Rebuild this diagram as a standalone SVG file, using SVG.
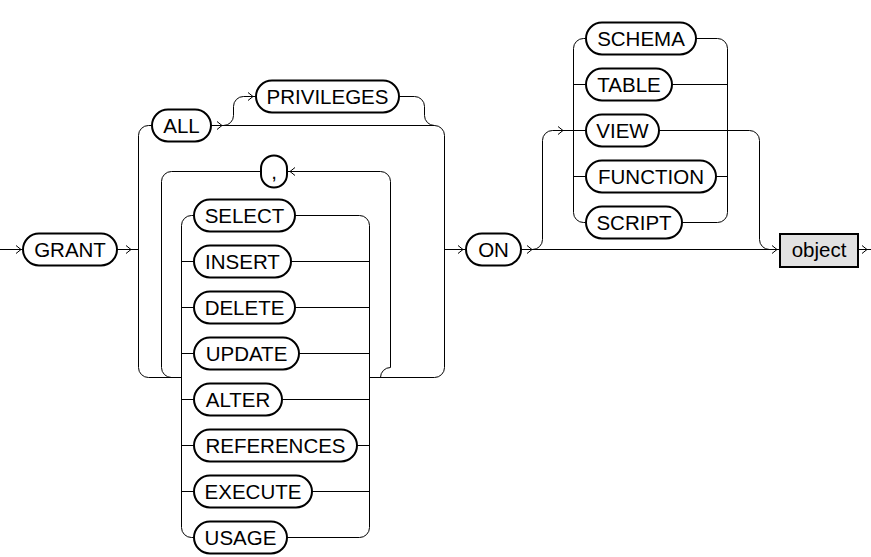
<svg xmlns="http://www.w3.org/2000/svg" xmlns:xlink="http://www.w3.org/1999/xlink" width="871" height="557" viewBox="0 0 871 557">
<style>
.pill{fill:#fff;stroke:#000;stroke-width:2}
.box{fill:#e2e2e2;stroke:#000;stroke-width:2}
.t{font-family:"Liberation Sans",Arial,sans-serif;font-size:20.5px;text-anchor:middle;fill:#000}
.c path,.c use{fill:none;stroke:#000;stroke-width:1}
</style>
<defs>
<path id="ar" d="M-5,-4 L0,0 L-5,4"/>
</defs>
<rect width="871" height="557" fill="#fff"/>
<g id="connectors" class="c">
<path d="M0,249.5 H22"/>
<path d="M118,249.5 H138.5"/>
<path d="M138.5,135.5 A10,10 0 0 1 148.5,125.5 H151"/>
<path d="M138.5,135.5 V367.5 A10,10 0 0 0 148.5,377.5 H181.5"/>
<path d="M212,125.5 H434.5 A10,10 0 0 1 444.5,135.5 V367.5 A10,10 0 0 1 434.5,377.5 H369.5"/>
<path d="M223.5,125.5 A10,10 0 0 0 233.5,115.5 V106.5 A10,10 0 0 1 243.5,96.5 H255"/>
<path d="M400,96.5 H414.5 A10,10 0 0 1 424.5,106.5 V115.5 A10,10 0 0 0 434.5,125.5"/>
<path d="M260,171.5 H171.5 A10,10 0 0 0 161.5,181.5 V367.5 A10,10 0 0 0 171.5,377.5"/>
<path d="M288,171.5 H380.5 A10,10 0 0 1 390.5,181.5 V367.5 A10,10 0 0 0 380.5,377.5"/>
<path d="M193,215.5 H191.5 A10,10 0 0 0 181.5,225.5 V527.5 A10,10 0 0 0 191.5,537.5 H193"/>
<path d="M181.5,261.5 H193 M181.5,307.5 H193 M181.5,353.5 H193 M181.5,399.5 H193 M181.5,445.5 H193 M181.5,491.5 H193"/>
<path d="M296,215.5 H359.5 A10,10 0 0 1 369.5,225.5 V527.5 A10,10 0 0 1 359.5,537.5 H288"/>
<path d="M292,261.5 H369.5 M296,307.5 H369.5 M300,353.5 H369.5 M283,399.5 H369.5 M358,445.5 H369.5 M313,491.5 H369.5"/>
<path d="M444.5,249.5 H465"/>
<path d="M522,249.5 H779"/>
<path d="M532.5,249.5 A10,10 0 0 0 542.5,239.5 V140.5 A10,10 0 0 1 552.5,130.5 H585"/>
<path d="M585,38.5 H583.5 A10,10 0 0 0 573.5,48.5 V212.5 A10,10 0 0 0 583.5,222.5 H585"/>
<path d="M573.5,84.5 H585 M573.5,176.5 H585"/>
<path d="M697,38.5 H717.5 A10,10 0 0 1 727.5,48.5 V212.5 A10,10 0 0 1 717.5,222.5 H683"/>
<path d="M673,84.5 H727.5 M717,176.5 H727.5"/>
<path d="M660,130.5 H749.5 A10,10 0 0 1 759.5,140.5 V239.5 A10,10 0 0 0 769.5,249.5 H779"/>
<path d="M859,249.5 H871"/>
<use xlink:href="#ar" transform="translate(21,249.5)"/>
<use xlink:href="#ar" transform="translate(131,249.5)"/>
<use xlink:href="#ar" transform="translate(222,125.5)"/>
<use xlink:href="#ar" transform="translate(253,96.5)"/>
<use xlink:href="#ar" transform="translate(290,171.5) rotate(180)"/>
<use xlink:href="#ar" transform="translate(463,249.5)"/>
<use xlink:href="#ar" transform="translate(532,249.5)"/>
<use xlink:href="#ar" transform="translate(563,130.5)"/>
<use xlink:href="#ar" transform="translate(777,249.5)"/>
<use xlink:href="#ar" transform="translate(867,249.5)"/>
</g>
<g id="n-grant"><rect class="pill" x="23" y="233.5" width="94" height="32" rx="16"/><text class="t" x="70" y="257">GRANT</text></g>
<g id="n-all"><rect class="pill" x="152" y="109.5" width="59" height="32" rx="16"/><text class="t" x="181.5" y="133">ALL</text></g>
<g id="n-privileges"><rect class="pill" x="256" y="80.5" width="143" height="32" rx="16"/><text class="t" x="327.5" y="104">PRIVILEGES</text></g>
<g id="n-comma"><rect class="pill" x="261" y="155.5" width="26" height="32" rx="13"/><text class="t" x="274" y="179">,</text></g>
<g id="n-select"><rect class="pill" x="194" y="199.5" width="101" height="32" rx="16"/><text class="t" x="244.5" y="223">SELECT</text></g>
<g id="n-insert"><rect class="pill" x="194" y="245.5" width="97" height="32" rx="16"/><text class="t" x="242.5" y="269">INSERT</text></g>
<g id="n-delete"><rect class="pill" x="194" y="291.5" width="101" height="32" rx="16"/><text class="t" x="244.5" y="315">DELETE</text></g>
<g id="n-update"><rect class="pill" x="194" y="337.5" width="105" height="32" rx="16"/><text class="t" x="246.5" y="361">UPDATE</text></g>
<g id="n-alter"><rect class="pill" x="194" y="383.5" width="88" height="32" rx="16"/><text class="t" x="238" y="407">ALTER</text></g>
<g id="n-references"><rect class="pill" x="194" y="429.5" width="163" height="32" rx="16"/><text class="t" x="275.5" y="453">REFERENCES</text></g>
<g id="n-execute"><rect class="pill" x="194" y="475.5" width="118" height="32" rx="16"/><text class="t" x="253" y="499">EXECUTE</text></g>
<g id="n-usage"><rect class="pill" x="194" y="521.5" width="93" height="32" rx="16"/><text class="t" x="240.5" y="545">USAGE</text></g>
<g id="n-on"><rect class="pill" x="466" y="233.5" width="55" height="32" rx="16"/><text class="t" x="493.5" y="257">ON</text></g>
<g id="n-schema"><rect class="pill" x="586" y="22.5" width="110" height="32" rx="16"/><text class="t" x="641" y="46">SCHEMA</text></g>
<g id="n-table"><rect class="pill" x="586" y="68.5" width="86" height="32" rx="16"/><text class="t" x="629" y="92">TABLE</text></g>
<g id="n-view"><rect class="pill" x="586" y="114.5" width="73" height="32" rx="16"/><text class="t" x="622.5" y="138">VIEW</text></g>
<g id="n-function"><rect class="pill" x="586" y="160.5" width="130" height="32" rx="16"/><text class="t" x="651" y="184">FUNCTION</text></g>
<g id="n-script"><rect class="pill" x="586" y="206.5" width="96" height="32" rx="16"/><text class="t" x="634" y="230">SCRIPT</text></g>
<g id="n-object"><rect class="box" x="780" y="234" width="78" height="33"/><text class="t" x="819" y="257">object</text></g>
</svg>
